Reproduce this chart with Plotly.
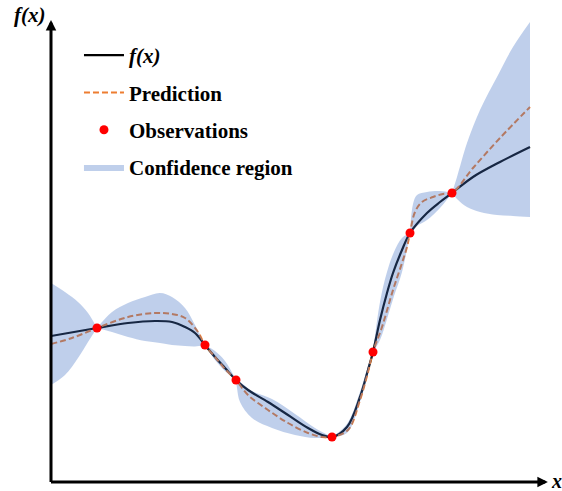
import plotly.graph_objects as go

# ---- data (arbitrary units) ----
obs_x = [46, 154, 185, 281, 322, 359, 401]
obs_y = [154, 137, 102, 45, 130, 249, 289]

true_x = [0, 46, 77, 104, 121, 134, 144, 154, 164, 174, 185, 197, 217, 237, 257, 271, 281,
          296, 309, 317, 322, 329, 336, 342, 351, 359, 376, 389, 401, 422, 449, 479]
true_y = [146, 154, 159, 161, 160, 155, 149, 137, 125, 114, 102, 92, 80, 67, 54, 47, 45,
          55, 85, 112, 130, 162, 189, 209, 232, 249, 269, 280, 289, 305, 320, 335]

pred_x = [0, 21, 46, 77, 104, 121, 134, 147, 154, 164, 174, 185, 197, 217, 237, 257, 271, 281,
          297, 309, 317, 322, 331, 342, 351, 356, 359, 364, 371, 382, 392, 401, 422, 449, 479]
pred_y = [138, 144, 154, 165, 169, 168, 164, 150, 137, 125, 113, 102, 87, 72, 59, 49, 45, 45,
          52, 82, 110, 130, 155, 192, 219, 235, 249, 270, 280, 285, 288, 289, 314, 344, 375]

band_x = [0, 14, 27, 37, 46, 61, 77, 94, 109, 121, 134, 144, 154, 164, 174, 185,
          186, 189, 201, 221, 244, 264, 281, 296, 309, 317, 322, 329, 336, 343, 351, 359,
          362, 366, 376, 389, 401, 406, 416, 429, 446, 462, 479]
band_upper = [199, 190, 180, 169, 154, 170, 179, 185, 189, 185, 174, 157, 137, 131, 121, 102,
              101, 100, 91, 83, 68, 54, 45, 58, 90, 116, 130, 180, 210, 230, 244, 249,
              278, 287, 290, 291, 289, 305, 339, 372, 405, 435, 460]
band_lower = [97, 107, 124, 140, 154, 150, 145, 141, 139, 137, 136, 135.5, 137, 122, 111, 102,
              94, 80, 64, 54, 47, 44, 45, 49, 80, 108, 130, 142, 163, 186, 210, 249,
              251, 256, 262, 274, 289, 283, 275, 270, 267, 266, 265]

X_MAX, Y_MAX = 497, 462

SERIF = "Liberation Serif, Times New Roman, serif"
BAND_FILL = "rgba(68,114,196,0.34)"

fig = go.Figure()

fig.add_trace(go.Scatter(
    x=true_x, y=true_y, mode="lines", name="<i>f(x)</i>",
    line=dict(color="black", width=2.2, shape="spline"),
    legendgroup="f", legendrank=1))

fig.add_trace(go.Scatter(
    x=pred_x, y=pred_y, mode="lines", name="Prediction",
    line=dict(color="#ED7D31", width=2, dash="6px,3px", shape="spline"),
    legendgroup="p", legendrank=2))

# confidence band, split at the observations (where it pinches)
cuts = [0] + [band_x.index(v) for v in obs_x] + [len(band_x) - 1]
first = True
for a, b in zip(cuts[:-1], cuts[1:]):
    if b <= a:
        continue
    xs = band_x[a:b + 1]
    fig.add_trace(go.Scatter(
        x=xs, y=band_upper[a:b + 1], mode="lines",
        line=dict(width=0, shape="spline"), hoverinfo="skip",
        showlegend=False, legendgroup="band"))
    fig.add_trace(go.Scatter(
        x=xs, y=band_lower[a:b + 1], mode="lines", fill="tonexty",
        fillcolor=BAND_FILL, line=dict(width=0, shape="spline"),
        name="Confidence region", showlegend=first,
        legendgroup="band", legendrank=4))
    first = False

fig.add_trace(go.Scatter(
    x=obs_x, y=obs_y, mode="markers", name="Observations",
    marker=dict(color="#FF0000", size=9),
    legendgroup="o", legendrank=3))

# axes with arrows
fig.add_annotation(x=X_MAX - 0.1, y=0, ax=-1.5, ay=0, xref="x", yref="y", axref="x", ayref="y",
                   text="", showarrow=True, arrowhead=2, arrowsize=0.7, arrowwidth=3,
                   arrowcolor="black")
fig.add_annotation(x=0, y=Y_MAX - 0.1, ax=0, ay=-1.5, xref="x", yref="y", axref="x", ayref="y",
                   text="", showarrow=True, arrowhead=2, arrowsize=0.7, arrowwidth=3,
                   arrowcolor="black")

fig.add_annotation(x=-0.0423, y=1.0108, xref="paper", yref="paper", text="<b><i>f(x)</i></b>",
                   showarrow=False, xanchor="center", yanchor="middle",
                   font=dict(family=SERIF, size=21, color="black"))
fig.add_annotation(x=1.002, y=0.003, xref="paper", yref="paper", text="<b><i>x</i></b>",
                   showarrow=False, xanchor="left", yanchor="middle",
                   font=dict(family=SERIF, size=20, color="black"))

fig.update_xaxes(range=[0, X_MAX], showgrid=False, zeroline=False, showticklabels=False,
                 showline=False, ticks="")
fig.update_yaxes(range=[0, Y_MAX], showgrid=False, zeroline=False, showticklabels=False,
                 showline=False, ticks="")

fig.update_layout(
    width=562, height=491, autosize=False,
    margin=dict(l=51, r=14, t=20, b=9),
    paper_bgcolor="white", plot_bgcolor="white",
    showlegend=True,
    legend=dict(x=0.0563, y=0.9675, xanchor="left", yanchor="top",
                bgcolor="rgba(0,0,0,0)", borderwidth=0, itemwidth=40,
                traceorder="grouped", tracegroupgap=7,
                font=dict(family=SERIF, size=21, color="black", weight="bold")),
)

fig.write_html("out.html", config={"displayModeBar": False},
               post_script="document.body.style.margin='0';document.body.style.overflow='hidden';")
